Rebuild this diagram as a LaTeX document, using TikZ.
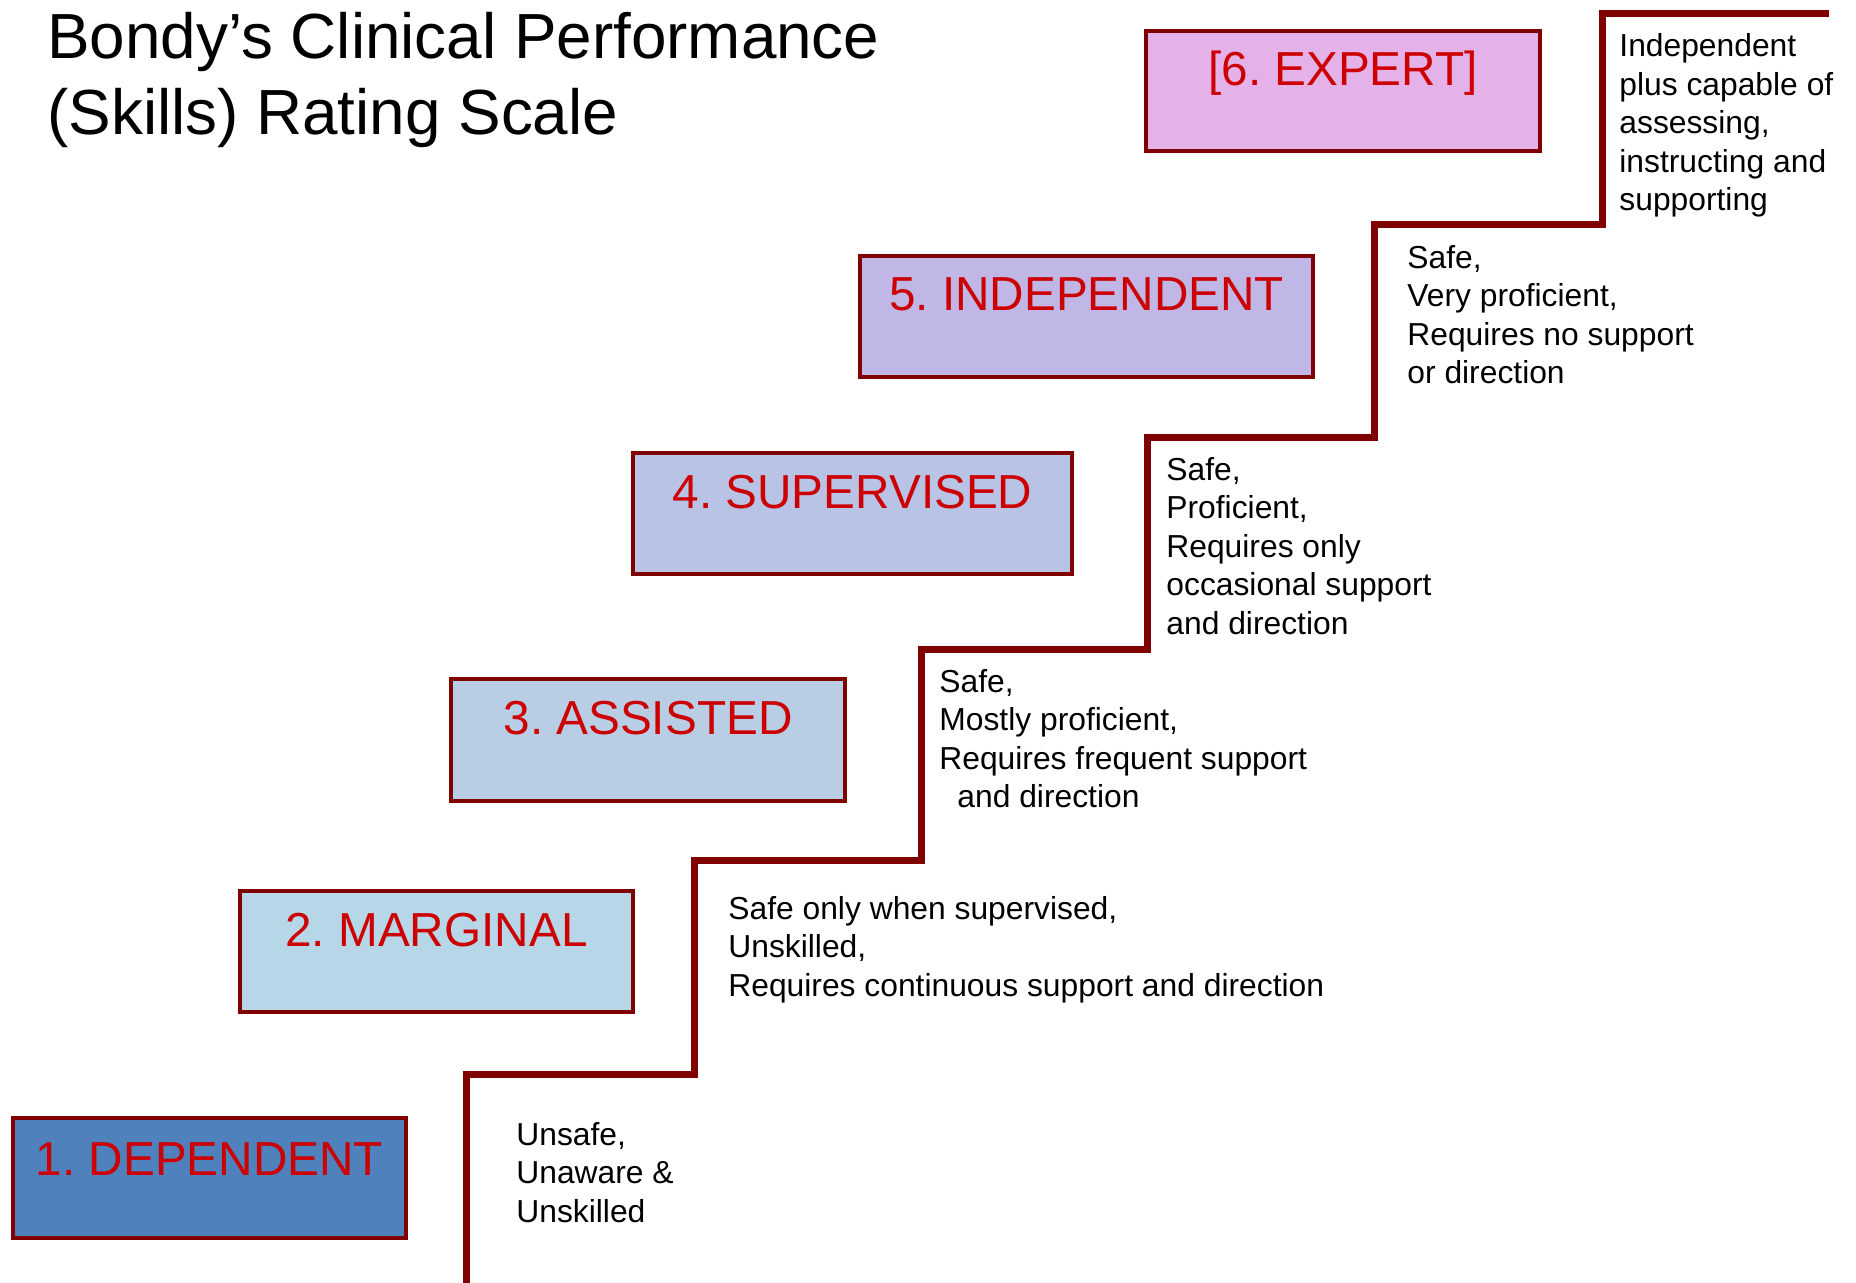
\documentclass[tikz,border=0pt]{standalone}
\usepackage{fontspec}
\setmainfont{Liberation Sans}
\usetikzlibrary{calc}
\definecolor{bord}{HTML}{800000}
\definecolor{stairc}{HTML}{800000}
\definecolor{labred}{HTML}{CC0000}
\definecolor{f1}{HTML}{4F81BD}
\definecolor{f2}{HTML}{B7D7E8}
\definecolor{f3}{HTML}{B9CDE5}
\definecolor{f4}{HTML}{B9C3E5}
\definecolor{f5}{HTML}{C0B7E6}
\definecolor{f6}{HTML}{E5B1E9}
\frenchspacing
\begin{document}
\begin{tikzpicture}[x=0.5pt,y=-0.5pt,
  levelbox/.style={draw=bord, line width=2pt, rectangle, inner sep=0pt, outer sep=0pt, anchor=north west},
  levellabel/.style={text=labred, font=\fontsize{23.85}{28}\selectfont, anchor=base, inner sep=0pt},
  desc/.style={font=\fontsize{15.9}{19.25}\selectfont, align=left, anchor=base west, inner sep=0pt},
  titletext/.style={font=\fontsize{31.9}{38}\selectfont, align=left, anchor=base west, inner sep=0pt},
  stair/.style={draw=stairc, line width=3.5pt, line join=miter}]
\useasboundingbox[fill=white] (0,0) rectangle (1856,1283);

% base anchor of a multi-line node = baseline of its last line
\node[titletext] (title) at (47,135) {Bondy’s Clinical Performance\\(Skills) Rating Scale};

\node[levelbox, fill=f1, minimum width=196.5pt, minimum height=60pt] (b1) at (13,1118) {};
\node[levelbox, fill=f2, minimum width=196.5pt, minimum height=60.5pt] (b2) at (240,891) {};
\node[levelbox, fill=f3, minimum width=197pt, minimum height=61pt] (b3) at (451,679) {};
\node[levelbox, fill=f4, minimum width=219.5pt, minimum height=60.5pt] (b4) at (633,453) {};
\node[levelbox, fill=f5, minimum width=226.5pt, minimum height=60.5pt] (b5) at (860,256) {};
\node[levelbox, fill=f6, minimum width=197pt, minimum height=60pt] (b6) at (1146,31) {};

\node[levellabel] (l1) at ($(b1.north)+(0,57)$) {1. DEPENDENT};
\node[levellabel] (l2) at ($(b2.north)+(0,55)$) {2. MARGINAL};
\node[levellabel] (l3) at ($(b3.north)+(0,55)$) {3. ASSISTED};
\node[levellabel] (l4) at ($(b4.north)+(0,55)$) {4. SUPERVISED};
\node[levellabel] (l5) at ($(b5.north)+(0,55)$) {5. INDEPENDENT};
\node[levellabel] (l6) at ($(b6.north)+(0,55)$) {[6. EXPERT]};

\path[stair] (466,1295) |- (694,1074) |- (921,860) |- (1147,649) |- (1374,437) |- (1602,225) |- (1829,14);

\node[desc] (d1) at (516,1222) {Unsafe,\\Unaware \&\\Unskilled};
\node[desc] (d2) at (728,996) {Safe only when supervised,\\Unskilled,\\Requires continuous support and direction};
\node[desc] (d3) at (939,807.5) {Safe,\\Mostly proficient,\\Requires frequent support\\\hspace*{9pt}and direction};
\node[desc] (d4) at (1166,634) {Safe,\\Proficient,\\Requires only\\occasional support\\and direction};
\node[desc] (d5) at (1407,383.5) {Safe,\\Very proficient,\\Requires no support\\or direction};
\node[desc] (d6) at (1619,211) {Independent\\plus capable of\\assessing,\\instructing and\\supporting};
\end{tikzpicture}
\end{document}
